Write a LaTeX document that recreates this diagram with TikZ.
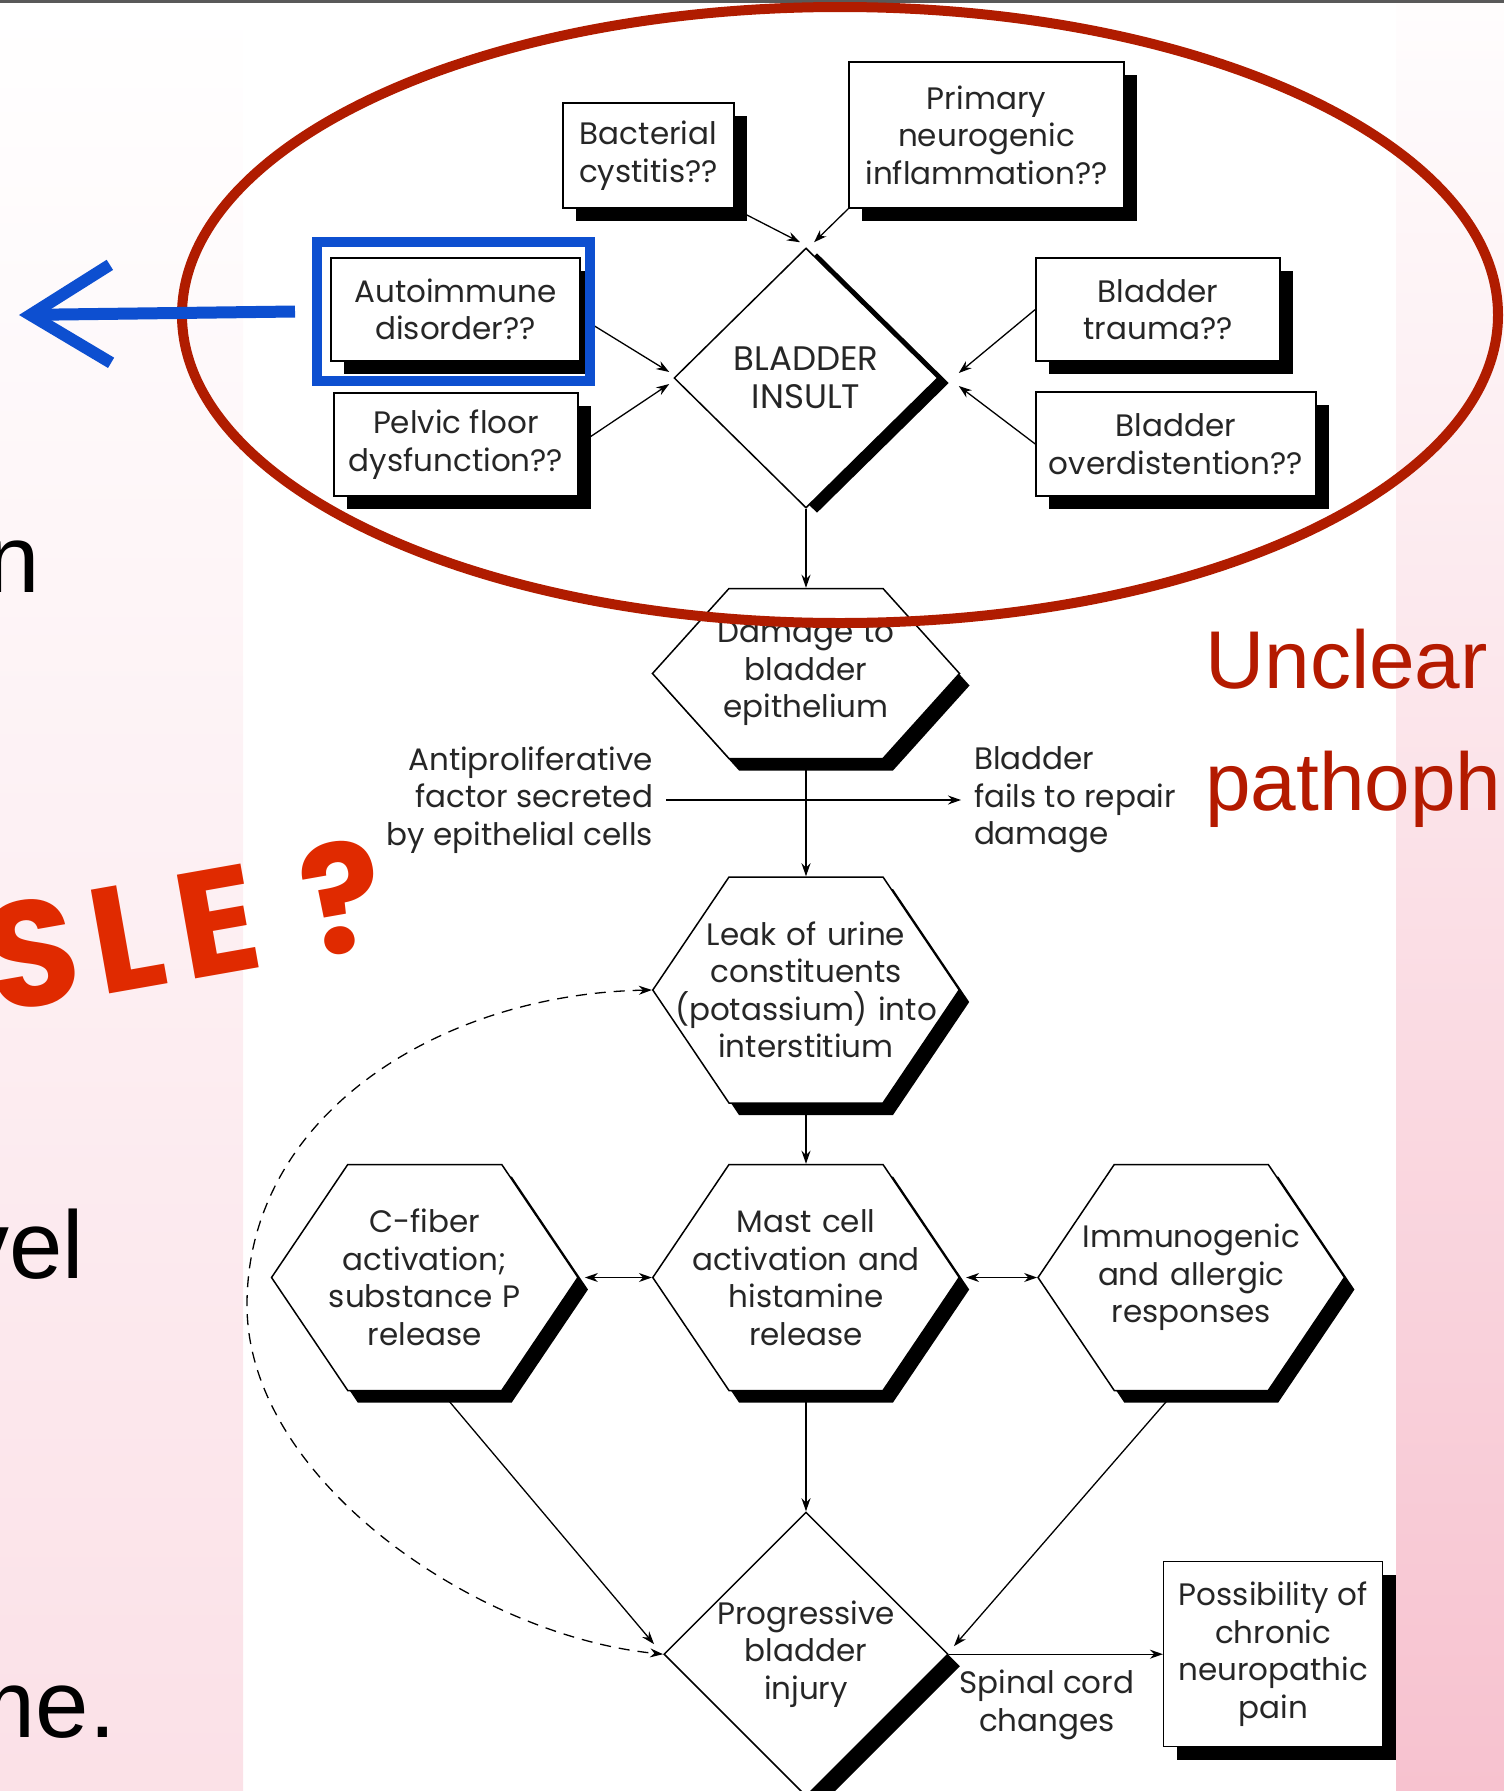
\documentclass[tikz,border=0pt]{standalone}
\usepackage{fontspec}
\usetikzlibrary{positioning,shapes.geometric,shapes.symbols,shadows,arrows.meta}

\newfontfamily\chartfont{Poppins}
\newfontfamily\markerfont[LetterSpace=10]{Poppins}
\newfontfamily\slidefont{Liberation Sans}

\definecolor{inkgray}{HTML}{262626}
\definecolor{circlered}{HTML}{B01C00}
\definecolor{notered}{HTML}{E02A00}
\definecolor{titlered}{HTML}{B41A00}
\definecolor{markblue}{HTML}{0D4FD0}
\definecolor{slidepink}{HTML}{F7C2CF}

\tikzset{
	chartfont/.style={font=\chartfont\fontsize{31}{37.5}\selectfont, text=inkgray},
	solidshadow/.style 2 args={drop shadow={shadow xshift=#1, shadow yshift=#2, fill=black, opacity=1}},
	causebox/.style={chartfont, draw, fill=white, line width=1.5pt, inner sep=0pt, align=center, solidshadow={13pt}{-13pt}},
	hexstep/.style={chartfont, signal, signal to=east and west, signal pointer angle=112, draw, fill=white, line width=1.5pt, text width=270pt, inner xsep=-58pt, inner ysep=0pt, align=center, minimum width=306pt, minimum height=226pt, solidshadow={10pt}{-12pt}},
	decision/.style={chartfont, diamond, draw, fill=white, line width=1.5pt, inner sep=0pt, align=center, minimum width=264pt, minimum height=260pt},
	sidenote/.style={chartfont, inner sep=0pt, outer xsep=13pt},
	link/.style={-{Stealth[length=13pt,width=9pt]}, line width=1.3pt},
	twolink/.style={{Stealth[length=13pt,width=9pt]}-{Stealth[length=13pt,width=9pt]}, line width=1.3pt},
	slideword/.style={font=\slidefont\fontsize{96}{110}\selectfont, text=black, inner sep=0pt},
}

\begin{document}
\begin{tikzpicture}[x=1pt,y=-1pt]
	\useasboundingbox (0,0) rectangle (1504,1791);
	
	% slide behind the figure
	\shade[top color=white, middle color=white!96!slidepink, bottom color=slidepink!50] (0,0) rectangle (243,1791);
	\shade[top color=white!97!slidepink, middle color=slidepink!70, bottom color=slidepink] (1396,0) rectangle (1504,1791);
	\draw[black!65, line width=3pt] (0,1) -- (1504,1);
	
	\node[slideword, anchor=base east] (wordn) at (40,592) {n};
	\node[slideword, anchor=base east] (wordvel) at (84,1278) {vel};
	\node[slideword, anchor=base east] (wordme) at (116,1737) {me.};
	
	% causes
	\node[causebox, minimum width=171pt, minimum height=105pt] (bact) at (648.5,155.5) {Bacterial\\cystitis??};
	\node[causebox, minimum width=275pt, minimum height=146pt] (neuro) at (986.5,135) {Primary\\neurogenic\\inflammation??};
	\node[causebox, minimum width=249pt, minimum height=103pt] (autoimm) at (455.5,309.5) {Autoimmune\\disorder??};
	\node[causebox, minimum width=244pt, minimum height=103pt] (pelvic) at (456,444.5) {Pelvic floor\\dysfunction??};
	\node[causebox, minimum width=244pt, minimum height=103pt] (trauma) at (1158,309.5) {Bladder\\trauma??};
	\node[causebox, minimum width=280pt, minimum height=104pt] (overdist) at (1176,444) {Bladder\\overdistention??};
	
	% main chain
	\node[decision, solidshadow={11pt}{-5pt}, font=\chartfont\fontsize{34}{38}\selectfont] (insult) at (806,378) {BLADDER\\INSULT};
	\node[hexstep, minimum height=170pt, signal pointer angle=96, below=79pt of insult] (damage) {Damage to\\bladder\\epithelium};
	\node[hexstep, below=117pt of damage] (leak) {Leak of urine\\constituents\\(potassium) into\\interstitium};
	\node[hexstep, below=60pt of leak] (mast) {Mast cell\\activation and\\histamine\\release};
	\node[hexstep, left=73pt of mast] (cfiber) {C-fiber\\activation;\\substance P\\release};
	\node[hexstep, right=77pt of mast] (immuno) {Immunogenic\\and allergic\\responses};
	\node[decision, solidshadow={12pt}{-12pt}, below=120pt of mast] (prog) {Progressive\\bladder\\injury};
	\node[causebox, minimum width=219pt, minimum height=185pt, right=214pt of prog] (poss) {Possibility of\\chronic\\neuropathic\\pain};
	
	\node[sidenote, anchor=east, align=right] (antipro) at (666,800) {Antiproliferative\\factor secreted\\by epithelial cells};
	\node[sidenote, anchor=west, align=left] (repair) at (961,800) {Bladder\\fails to repair\\damage};
	\node[chartfont, align=center] (spinal) at (1047,1705) {Spinal cord\\changes};
	\coordinate (loopleft) at (247,1305);
	
	\draw[link] (bact.south east) -- ([xshift=-6pt,yshift=5pt]insult.north);
	\draw[link] (neuro.south west) -- ([xshift=8pt,yshift=5pt]insult.north);
	\draw[link] ([yshift=-8pt]autoimm.east) -- ([xshift=-4pt,yshift=6pt]insult.west);
	\draw[link] (pelvic.east) -- ([xshift=-4pt,yshift=-6pt]insult.west);
	\draw[link] (trauma.west) -- ([xshift=20pt,yshift=5pt]insult.east);
	\draw[link] (overdist.west) -- ([xshift=20pt,yshift=-8pt]insult.east);
	
	\draw[link] (insult.south) -- (damage.north);
	\draw[link] (damage.south) -- (leak.north);
	\draw[link] (antipro.east) -- (repair.west);
	\draw[link] (leak.south) -- (mast.north);
	\draw[twolink] ([xshift=6pt]cfiber.east) -- (mast.west);
	\draw[twolink] ([xshift=6pt]mast.east) -- (immuno.west);
	\draw[link] (mast.south) -- (prog.north);
	\draw[link] ([xshift=16pt]cfiber.south) -- ([xshift=-9pt,yshift=10pt]prog.west);
	\draw[link] ([xshift=-16pt]immuno.south) -- ([xshift=5pt,yshift=8pt]prog.east);
	\draw[link] (prog.east) -- (poss.west);
	\draw[twolink, dash pattern=on 11pt off 8pt] (leak.west) .. controls (440,994) and (247,1115) .. (loopleft) .. controls (247,1480) and (477,1636) .. (prog.west);
	
	% marks drawn over the slide
	\draw[circlered, line width=10pt] (840,315) ellipse [x radius=658, y radius=308];
	\node[draw=markblue, line width=10pt, minimum width=273pt, minimum height=139pt] (mark) at (453.5,311.5) {};
	\coordinate (slideleft) at (19,315);
	\draw[markblue, line width=12pt, -{Straight Barb[length=80pt,width=98pt]}] ([xshift=-17pt]mark.west) -- (slideleft);
	
	\node[font=\slidefont\fontsize{82}{98}\selectfont, text=titlered, anchor=base west, inner sep=0pt] (unclear) at (1205,688) {Unclear};
	\node[font=\slidefont\fontsize{82}{98}\selectfont, text=titlered, anchor=base west, inner sep=0pt] (patho) at (1205,810) {pathoph};
	\node[font=\markerfont\bfseries\fontsize{150}{150}\selectfont, text=notered, rotate=10, anchor=base west, inner sep=0pt] (sle) at (-5,1014) {SLE ?};
\end{tikzpicture}
\end{document}
